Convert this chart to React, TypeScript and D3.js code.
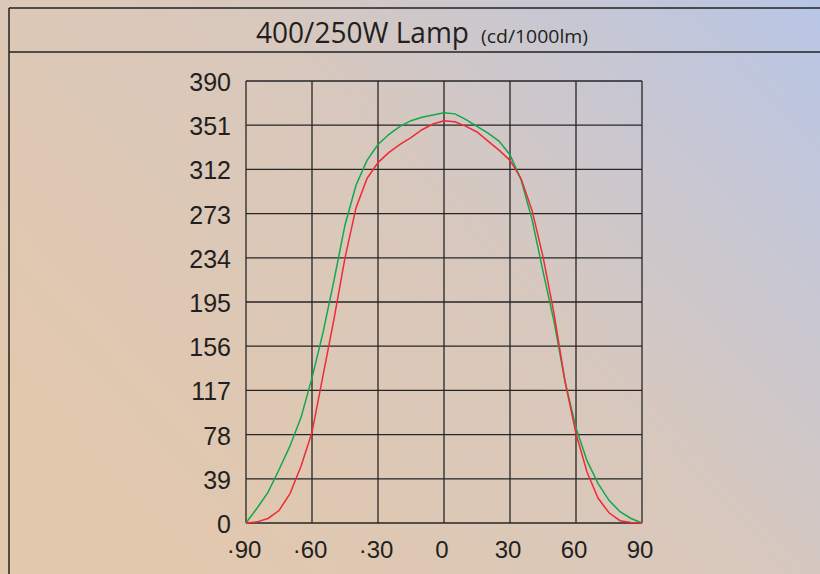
import React from "react";
import * as d3 from "d3";

const angles: number[] = [-90,-85,-80,-75,-70,-65,-60,-55,-50,-45,-40,-35,-30,-25,-20,-15,-10,-5,0,5,10,15,20,25,30,35,40,45,50,55,60,65,70,75,80,85,90];
const greenValues: number[] = [0,13,27,47,68,93,128,168,214,263,298,320,334,343,350,355,358,360,362,361,356,350,344,337,325,303,268,222,178,125,84,55,35,20,10,4,0];
const redValues: number[] = [0,1,4,11,26,50,80,130,180,234,278,304,318,327,334,340,347,352,355,354,350,345,337,329,320,304,276,235,185,125,79,45,22,9,2,0.5,0];
const yTicks: number[] = [0,39,78,117,156,195,234,273,312,351,390];
const xTicks: number[] = [-90,-60,-30,0,30,60,90];
const xTickLabels: string[] = ["·90","·60","·30","0","30","60","90"];
const titleMain = "400/250W Lamp";
const titleSub = "(cd/1000lm)";

export default function App() {
  const W = 820, H = 574;
  const left = 246, right = 642, top = 81, bottom = 523;
  const x = d3.scaleLinear().domain([-90, 90]).range([left, right]);
  const y = d3.scaleLinear().domain([0, 390]).range([bottom, top]);
  const line = d3.line<number>().x((_, i) => x(angles[i])).y((v) => y(v));
  const gridColor = "#262626";
  const font = "'Liberation Sans', Arial, sans-serif";
  return (
    <svg width={W} height={H} style={{ position: "absolute", left: 0, top: 0 }}>
      <defs>
        <linearGradient id="bg" x1="0" y1="0.65" x2="1" y2="0">
          <stop offset="0" stopColor="#e2c8ad" />
          <stop offset="0.5" stopColor="#d8c8bd" />
          <stop offset="1" stopColor="#b8c6e6" />
        </linearGradient>
      </defs>
      <rect x={0} y={0} width={W} height={H} fill="url(#bg)" />
      {/* frame */}
      <line x1={9} y1={8} x2={W} y2={8} stroke="#222" strokeWidth={1.5} />
      <line x1={9} y1={52} x2={W} y2={52} stroke="#222" strokeWidth={1.5} />
      <line x1={9} y1={8} x2={9} y2={H} stroke="#222" strokeWidth={1.5} />
      <text y={43} fill="#231f20" fontFamily="'Liberation Sans Narrow', 'Open Sans', sans-serif">
        <tspan x={256} fontSize={29} textLength={213} lengthAdjust="spacingAndGlyphs">{titleMain}</tspan>
        <tspan x={481} fontSize={19} textLength={107} lengthAdjust="spacingAndGlyphs">{titleSub}</tspan>
      </text>
      {/* grid */}
      {yTicks.map((t) => (
        <line key={"h" + t} x1={left} x2={right} y1={y(t)} y2={y(t)} stroke={gridColor} strokeWidth={1.3} />
      ))}
      {xTicks.map((t) => (
        <line key={"v" + t} x1={x(t)} x2={x(t)} y1={top} y2={bottom} stroke={gridColor} strokeWidth={1.3} />
      ))}
      {yTicks.map((t) => (
        <text key={"yl" + t} x={231} y={y(t) + 10} textAnchor="end" fontSize={25} fontFamily={font} fill="#231f20">
          {t}
        </text>
      ))}
      {xTicks.map((t, i) => (
        <text key={"xl" + t} x={x(t) - 2} y={558} textAnchor="middle" fontSize={24} fontFamily={font} fill="#231f20">
          {xTickLabels[i]}
        </text>
      ))}
      <path d={line(greenValues) || ""} fill="none" stroke="#12a84c" strokeWidth={1.5} />
      <path d={line(redValues) || ""} fill="none" stroke="#ee2b36" strokeWidth={1.5} />
    </svg>
  );
}
